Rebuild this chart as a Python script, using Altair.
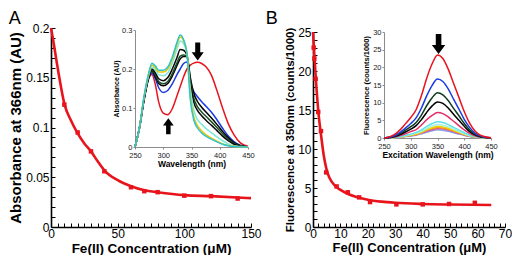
import altair as alt
import pandas as pd

FONT = "Liberation Sans"
RED = "#E8141C"

# ---------------- Panel A: main titration ----------------
a_conc = [10, 20, 30, 40, 60, 70, 80, 100, 120, 140]
a_abs = [0.123, 0.095, 0.076, 0.056, 0.040, 0.036, 0.035, 0.0315, 0.031, 0.0286]
a_fit_conc = [0, 2, 4, 6, 8, 10, 15, 20, 25, 30, 35, 40, 50, 60, 70, 80, 100, 120, 150]
a_fit_abs = [0.2, 0.185, 0.168, 0.152, 0.137, 0.124, 0.107, 0.094, 0.084, 0.076, 0.066,
             0.057, 0.047, 0.041, 0.037, 0.035, 0.032, 0.031, 0.029]

# ---------------- Panel A: inset spectra ----------------
ia_nm = [250, 258, 266, 274, 280, 286, 292, 300, 308, 316, 324, 330, 336, 342, 348, 354,
         360, 368, 376, 385, 395, 405, 415, 425, 437, 450]
ia_red = [0, 0.05, 0.12, 0.175, 0.186, 0.16, 0.115, 0.087, 0.083, 0.098, 0.13, 0.155, 0.18,
          0.2, 0.21, 0.215, 0.217, 0.214, 0.205, 0.185, 0.145, 0.1, 0.06, 0.032, 0.01, 0.002]
ia_blue = [0, 0.05, 0.12, 0.175, 0.19, 0.175, 0.152, 0.14, 0.145, 0.162, 0.185, 0.2, 0.214,
           0.218, 0.165, 0.142, 0.13, 0.116, 0.104, 0.09, 0.07, 0.048, 0.028, 0.014, 0.004, 0]
ia_black2 = [0, 0.05, 0.122, 0.176, 0.194, 0.18, 0.163, 0.157, 0.163, 0.182, 0.208, 0.226,
             0.232, 0.232, 0.178, 0.138, 0.118, 0.102, 0.089, 0.075, 0.058, 0.04, 0.024,
             0.011, 0.003, 0]
ia_dkgreen = [0, 0.05, 0.123, 0.178, 0.197, 0.185, 0.168, 0.162, 0.168, 0.188, 0.215, 0.233,
              0.236, 0.232, 0.17, 0.125, 0.105, 0.09, 0.078, 0.065, 0.05, 0.034, 0.02,
              0.009, 0.003, 0]
ia_black1 = [0, 0.05, 0.125, 0.18, 0.2, 0.19, 0.175, 0.17, 0.178, 0.2, 0.228, 0.25, 0.248,
             0.235, 0.165, 0.115, 0.095, 0.08, 0.068, 0.056, 0.042, 0.028, 0.016, 0.007,
             0.002, 0]
ia_aqua = [0, 0.05, 0.127, 0.183, 0.205, 0.198, 0.185, 0.183, 0.19, 0.215, 0.25, 0.272,
           0.265, 0.24, 0.15, 0.095, 0.072, 0.058, 0.047, 0.037, 0.026, 0.016, 0.008, 0.003,
           0.001, 0]
ia_yellow = [0, 0.05, 0.128, 0.185, 0.21, 0.203, 0.192, 0.192, 0.2, 0.225, 0.262, 0.282,
             0.272, 0.24, 0.13, 0.078, 0.056, 0.041, 0.031, 0.023, 0.015, 0.008, 0.004,
             0.002, 0, 0]
ia_cyan = [0, 0.05, 0.13, 0.188, 0.215, 0.208, 0.197, 0.197, 0.205, 0.23, 0.267, 0.287,
           0.275, 0.24, 0.12, 0.07, 0.05, 0.036, 0.027, 0.02, 0.013, 0.007, 0.003, 0.001, 0, 0]
ia_series = [ia_red, ia_blue, ia_black2, ia_dkgreen, ia_black1, ia_aqua, ia_yellow, ia_cyan]
ia_colors = [RED, "#1A3BE0", "#000000", "#1F4F2A", "#0A0A0A", "#7FE8D8", "#E6C800", "#2EC4D0"]
ia_arrow_down = {"nm": [361], "v": [0.245]}
ia_arrow_up = {"nm": [309], "v": [0.053]}

# ---------------- Panel B: main titration ----------------
b_conc = [0.25, 0.5, 0.95, 1.9, 2.9, 4.8, 8.6, 12.7, 16.8, 20.8, 30.4, 40, 49.6, 59]
b_fl = [23.0, 21.6, 19.0, 14.75, 12.3, 7.0, 5.2, 4.45, 3.8, 3.2, 2.9, 2.9, 2.95, 3.1]
b_fit_conc = [0, 0.5, 1, 2, 3, 4, 5, 6, 8, 10, 13, 16, 20, 25, 30, 40, 50, 65]
b_fit_fl = [25, 22.0, 19.2, 14.6, 11.6, 9.0, 7.3, 6.3, 5.3, 4.75, 4.2, 3.85, 3.5, 3.25,
            3.1, 2.95, 2.88, 2.82]

# ---------------- Panel B: inset excitation spectra ----------------
ib_nm = [250, 260, 270, 280, 290, 300, 310, 320, 330, 340, 350, 360, 370, 380, 390, 400,
         410, 420, 430, 440, 450]
ib_slate = [0, 0.03, 0.1, 0.22, 0.39, 0.57, 0.78, 1.17, 1.65, 2.05, 2.3, 2.2, 1.9, 1.5, 1.1,
            0.74, 0.41, 0.2, 0.08, 0.03, 0.01]
ib_magenta = [0, 0.03, 0.12, 0.26, 0.46, 0.67, 0.92, 1.4, 1.95, 2.4, 2.7, 2.6, 2.25, 1.8,
              1.3, 0.86, 0.49, 0.23, 0.09, 0.03, 0.01]
ib_orange = [0, 0.04, 0.13, 0.3, 0.5, 0.74, 1.0, 1.5, 2.15, 2.65, 3.0, 2.85, 2.5, 2.0, 1.45,
             0.95, 0.54, 0.25, 0.1, 0.04, 0.01]
ib_yellow = [0, 0.04, 0.14, 0.32, 0.56, 0.82, 1.1, 1.7, 2.4, 2.9, 3.3, 3.15, 2.75, 2.2, 1.6,
             1.05, 0.6, 0.28, 0.11, 0.04, 0.01]
ib_aqua = [0, 0.05, 0.16, 0.37, 0.65, 0.94, 1.3, 1.9, 2.7, 3.4, 3.8, 3.6, 3.15, 2.5, 1.85,
           1.2, 0.7, 0.32, 0.13, 0.05, 0.02]
ib_cyan = [0, 0.06, 0.2, 0.45, 0.8, 1.1, 1.6, 2.3, 3.3, 4.1, 4.6, 4.4, 3.8, 3.0, 2.25, 1.5,
           0.8, 0.4, 0.16, 0.06, 0.02]
ib_crimson = [0, 0.1, 0.3, 0.7, 1.2, 1.8, 2.4, 3.7, 5.2, 6.4, 7.2, 6.9, 6.0, 4.75, 3.5, 2.3,
              1.3, 0.6, 0.25, 0.1, 0.03]
ib_black = [0, 0.1, 0.45, 1.0, 1.7, 2.5, 3.5, 5.2, 7.3, 9.1, 10.2, 9.8, 8.5, 6.7, 5.0, 3.3,
            1.8, 0.87, 0.35, 0.13, 0.04]
ib_dkgreen = [0, 0.2, 0.55, 1.25, 2.2, 3.2, 4.4, 6.5, 9.2, 11.4, 12.8, 12.2, 10.6, 8.4, 6.3,
              4.1, 2.3, 1.1, 0.45, 0.17, 0.05]
ib_blue = [0, 0.2, 0.7, 1.6, 2.8, 4.1, 5.7, 8.5, 12.0, 14.9, 16.7, 16.0, 13.9, 11.0, 8.2,
           5.3, 3.0, 1.4, 0.6, 0.2, 0.1]
ib_red = [0, 0.3, 1.0, 2.3, 4.0, 5.8, 8.0, 12.0, 17.0, 21.0, 23.5, 22.5, 19.5, 15.5, 11.5,
          7.5, 4.2, 2.0, 0.8, 0.3, 0.1]
ib_series = [ib_slate, ib_magenta, ib_orange, ib_yellow, ib_aqua, ib_cyan, ib_crimson,
             ib_black, ib_dkgreen, ib_blue, ib_red]
ib_colors = ["#8A9BE0", "#D84FA0", "#F59B1A", "#F2D200", "#A6F2E0", "#5FE0E6", "#E22E6A",
             "#000000", "#0D3B1E", "#1A3BE0", RED]
ib_arrow_down = {"nm": [352], "v": [26.6]}

ARROW_DOWN = "M-0.28,-1L0.28,-1L0.28,0.1L0.67,0.1L0,1L-0.67,0.1L-0.28,0.1Z"
ARROW_UP = "M-0.28,1L0.28,1L0.28,-0.1L0.67,-0.1L0,-1L-0.67,-0.1L-0.28,-0.1Z"


def long_df(nm, colors, series):
    rows = []
    for i, (col, vals) in enumerate(zip(colors, series)):
        for x, v in zip(nm, vals):
            rows.append({"nm": x, "v": v, "col": col, "k": i})
    return pd.DataFrame(rows)


def panel(cx, cy, fx, fy, xdom, ydom, yrange, xmaj, xmin, ymaj, ymin,
          xtitle, ytitle, xts, yts,
          df, xr, yr, iydom, iymaj, ixtitle, iytitle, ixts, iyts, arrows, W, H):
    pts = pd.DataFrame({"c": cx, "v": cy})
    fit = pd.DataFrame({"c": fx, "v": fy})
    xs = alt.Scale(domain=xdom, nice=False, zero=False, range=[0, W])
    ys = alt.Scale(domain=ydom, nice=False, zero=False, range=yrange)
    com = dict(grid=False, domainColor="black", tickColor="black", labelColor="black",
               labelFont=FONT, titleFont=FONT, titleColor="black")
    x_major = alt.Axis(orient="bottom", values=xmaj, ticks=False, domainWidth=1.6,
                       labelFontSize=12, labelPadding=1, labelFlush=False, title=xtitle,
                       titleFontSize=xts, titleFontWeight="bold", titlePadding=2, **com)
    y_major = alt.Axis(orient="left", values=ymaj, format="~g", ticks=False, domainWidth=1.6,
                       labelFontSize=12, labelPadding=2, labelFlush=False, title=ytitle,
                       titleFontSize=yts, titleFontWeight="bold", titlePadding=2, **com)
    x_minor = alt.Axis(orient="bottom", values=xmin, offset=-4, tickSize=4, tickWidth=1,
                       domain=False, labels=False, title=None, **com)
    y_minor = alt.Axis(orient="left", values=ymin, offset=-4, tickSize=4, tickWidth=1,
                       domain=False, labels=False, title=None, **com)
    p = alt.Chart(pts).mark_square(size=20, color=RED, opacity=1).encode(
        x=alt.X("c:Q", scale=xs, axis=x_major),
        y=alt.Y("v:Q", scale=ys, axis=y_major),
    )
    f = alt.Chart(fit).mark_line(color=RED, strokeWidth=2.6, interpolate="monotone").encode(
        x=alt.X("c:Q", scale=xs, axis=x_minor),
        y=alt.Y("v:Q", scale=ys, axis=y_minor),
    )

    ixs = alt.Scale(domain=[250, 450], range=xr, nice=False, zero=False)
    iys = alt.Scale(domain=iydom, range=yr, nice=False, zero=False)
    icom = dict(grid=False, domainColor="#8c8c8c", tickColor="#8c8c8c", labelColor="#222222",
                labelFont=FONT, titleFont=FONT, titleColor="black", labelFontSize=7.5,
                tickSize=2, titleFontWeight="bold", labelFlush=False)
    lines = alt.Chart(df).mark_line(strokeWidth=1.5, interpolate="monotone").encode(
        x=alt.X("nm:Q", scale=ixs,
                axis=alt.Axis(orient="bottom", offset=-(H - yr[0]),
                              values=[250, 300, 350, 400, 450], labelPadding=2,
                              title=ixtitle, titleFontSize=ixts, titlePadding=1, **icom)),
        y=alt.Y("v:Q", scale=iys,
                axis=alt.Axis(orient="left", offset=-xr[0], values=iymaj, format="~g",
                              labelPadding=1, title=iytitle, titleFontSize=iyts,
                              titlePadding=2, **icom)),
        color=alt.Color("col:N", scale=None),
        detail="k:N",
    )
    layers = [p, f, lines]
    for data, shape, size in arrows:
        layers.append(
            alt.Chart(pd.DataFrame(data)).mark_point(
                shape=shape, size=size, filled=True, color="black", opacity=1, strokeWidth=0
            ).encode(
                x=alt.X("nm:Q", scale=ixs, axis=None),
                y=alt.Y("v:Q", scale=iys, axis=None),
            )
        )
    return alt.layer(*layers).resolve_scale(x="independent", y="independent").properties(
        width=W, height=H)


H = 199

panelA = panel(
    a_conc, a_abs, a_fit_conc, a_fit_abs, [0, 150], [0, 0.2], [H, 0],
    [0, 50, 100, 150], list(range(0, 151, 5)),
    [0, 0.05, 0.1, 0.15, 0.2], [round(k * 0.01, 2) for k in range(0, 21)],
    "Fe(II) Concentration (μM)", "Absorbance at 366nm (AU)", 13.5, 15,
    long_df(ia_nm, ia_colors, ia_series), [84, 197], [119, 2], [0, 0.3], [0, 0.1, 0.2, 0.3],
    "Wavelength (nm)", "Absorbance (AU)", 8.5, 7,
    [(ia_arrow_down, ARROW_DOWN, 324), (ia_arrow_up, ARROW_UP, 256)], 200, H,
).properties(
    title=alt.TitleParams("A", anchor="start", fontSize=18, fontWeight="normal", font=FONT,
                          color="black", offset=-6),
)

panelB = panel(
    b_conc, b_fl, b_fit_conc, b_fit_fl, [0, 70], [0, 25], [H, 4],
    list(range(0, 71, 10)), list(range(0, 71, 2)),
    [0, 5, 10, 15, 20, 25], list(range(0, 26)),
    "Fe(II) Concentration (μM)", "Fluorescence at 350nm (counts/1000)", 13, 11.5,
    long_df(ib_nm, ib_colors, ib_series), [71, 178], [110, 4], [0, 30],
    [0, 5, 10, 15, 20, 25, 30],
    "Excitation Wavelength (nm)", "Fluorescence (counts/1000)", 8.5, 7.5,
    [(ib_arrow_down, ARROW_DOWN, 400)], 192, H,
).properties(
    title=alt.TitleParams("B", anchor="start", fontSize=18, fontWeight="normal", font=FONT,
                          color="black", offset=-2, dx=-19),
)

chart = alt.hconcat(panelA, panelB, spacing=3).properties(
    padding={"left": 0, "top": 2, "right": 0, "bottom": 0},
    background="white",
).configure_view(stroke=None)

chart.save("out.html", embed_options={"renderer": "svg", "actions": False})
